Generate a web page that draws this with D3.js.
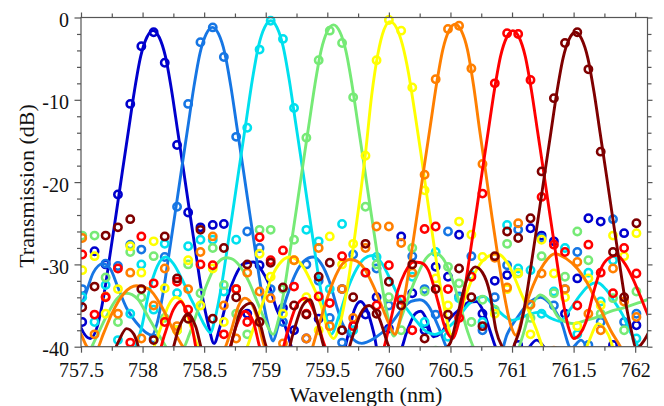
<!DOCTYPE html>
<html>
<head>
<meta charset="utf-8">
<script src="https://cdn.jsdelivr.net/npm/d3@7"></script>
<style>
  body { margin: 0; background: #fff; }
  svg { display: block; }
  svg text { font-family: 'Liberation Serif', 'Times New Roman', 'DejaVu Serif', serif; }
</style>
</head>
<body>
<svg id="chart" width="664" height="406"></svg>
<script>
// measurement wavelengths (nm), shared by all channels
const wavelengthGrid = [757.51, 757.61, 757.70, 757.80, 757.90, 757.99, 758.09, 758.18, 758.28, 758.37,
  758.47, 758.57, 758.66, 758.76, 758.85, 758.95, 759.04, 759.14, 759.23, 759.33,
  759.43, 759.52, 759.62, 759.71, 759.81, 759.90, 760.00, 760.10, 760.19, 760.29,
  760.38, 760.48, 760.57, 760.67, 760.76, 760.86, 760.96, 761.05, 761.15, 761.24,
  761.34, 761.43, 761.53, 761.62, 761.72, 761.82, 761.91, 762.01];

// measured transmission (dB) per channel, one value per grid wavelength
const measuredCh1 = [-37, -28.4, -30, -21.5, -10.5, -3.5, -1.8, -5.5, -15.5, -23.7, -25.5, -25.2, -25.1, -33, -36, -30.1,
  -41, -35.3, -38, -39, -36.6, -42, -33, -41, -36.1, -34, -37.8, -26.6, -33.5, -38, -30.3, -31.5, -26.4, -40.5,
  -36, -32, -31.3, -39.8, -25.6, -26.5, -27.2, -36, -31.7, -24.4, -24.8, -39.8, -26.2, -37.4];
const measuredCh2 = [-33, -40.5, -29.9, -30.2, -27.6, -28.2, -39, -29.1, -23, -10.5, -3, -1.2, -4.8, -14.5, -26, -28,
  -33, -37, -41, -30, -32, -36.5, -39.5, -28.8, -41, -30.5, -35, -41, -29, -33, -36.1, -26, -33.9, -29,
  -38, -34, -30.1, -25.8, -40.5, -26.8, -35, -33, -28.5, -39.8, -37, -24.5, -37, -36];
const measuredCh3 = [-34, -37, -32.5, -39.2, -36, -30, -35.5, -27.5, -33.5, -27.8, -27, -27, -33.3, -27, -13.4, -3.9,
  -0.4, -2.6, -11, -25.8, -27.2, -33, -25.1, -38, -31, -29.1, -40.5, -35, -31.5, -37, -28.5, -38.8, -34.1, -31.3,
  -37, -41, -25.2, -30.5, -30.7, -36, -33.3, -28, -38.5, -31, -34.5, -29.5, -41, -39];
const measuredCh4 = [-26.5, -26.5, -31.6, -37, -28.5, -34, -29, -36.5, -38, -30, -33.5, -28, -32.5, -36, -38.5, -25.8,
  -25.8, -33, -27, -14.6, -5.2, -1.6, -3.1, -9.7, -23, -30, -34, -38, -28, -33.3, -40.5, -30.3, -32.3, -37,
  -34.3, -35.5, -27.5, -31, -36.5, -29, -33.5, -31.5, -26, -29.5, -36, -34.1, -38, -33.3];
const measuredCh5 = [-30.7, -29, -36, -33, -27.8, -31, -27.2, -32.9, -38, -29.5, -35, -30.5, -37, -33, -40.5, -28.7,
  -31.5, -36, -29.5, -34, -38, -26.6, -30, -27.5, -16.8, -5.2, -0.3, -1.6, -8.5, -21, -31.7, -35, -24.8, -26.4,
  -29.1, -36, -33, -31.1, -38.5, -27, -31.1, -34, -37.5, -31.7, -35, -26.5, -29, -26.2];
const measuredCh6 = [-26.8, -38.5, -33.9, -36, -31, -39, -35, -30.5, -37.5, -33, -28.5, -26.6, -35, -39, -31, -33.3,
  -34.1, -39.6, -29.5, -39, -28, -37.5, -33, -36.5, -28, -25.4, -25.4, -27.4, -31, -19.1, -7.5, -1.4, -1.0, -6.2,
  -17.8, -29.2, -32.8, -25, -34.9, -31.1, -40.5, -33, -29.7, -36, -38, -30.5, -34.5, -36.4];
const measuredCh7 = [-28.8, -36.1, -34, -30.5, -39.5, -26.6, -32.3, -37, -32.1, -35.5, -30, -30.1, -38.5, -33, -37, -26.7,
  -29.5, -28.3, -32.7, -36, -33.9, -34.7, -29, -37.5, -31, -35, -30.1, -34.3, -38, -25.7, -25.4, -33, -36.5, -31.5,
  -21.4, -8, -1.9, -2.0, -7.6, -21.8, -27.6, -28.5, -35, -27.6, -31, -33.5, -28, -31.1];
const measuredCh8 = [-35.2, -32.7, -26.5, -25.5, -24.5, -33, -39.2, -26.6, -31.7, -36.6, -25.8, -36.6, -28, -34, -30, -37,
  -29.8, -32.8, -35, -36.1, -31.5, -29.8, -38, -34, -27.5, -36, -32.1, -35, -30, -39, -33, -36.1, -30.5, -34,
  -37.5, -29, -26, -26.8, -24.4, -18.7, -9.8, -3.1, -1.8, -6.3, -16.3, -28.5, -34, -25];

// fitted response per channel, [wavelength nm, dB]
const fitCh1 = [[757.45,-35.5],[757.50,-37.7],[757.575,-39.0],[757.635,-37.4],[757.685,-33.8],[757.735,-28.9],[757.785,-23.9],
  [757.835,-18.8],[757.885,-13.8],[757.935,-8.8],[757.985,-4.7],[758.035,-2.4],[758.085,-1.6],[758.135,-2.4],[758.185,-4.7],
  [758.235,-8.8],[758.285,-13.8],[758.335,-18.8],[758.385,-23.9],[758.435,-28.9],[758.485,-33.8],[758.535,-37.4],[758.58,-39.6],
  [758.63,-37.5],[758.70,-33.5],[758.75,-31.5],[758.82,-29.9],[758.90,-29.7],[758.97,-30.8],[759.02,-32.2],[759.09,-35.5],
  [759.155,-37.4],[759.20,-39.6],[759.25,-42],[759.60,-42],[759.67,-38.5],[759.72,-35.5],[759.77,-34.5],[759.82,-35.5],
  [759.88,-38.5],[759.93,-42],[760.08,-41],[760.15,-38],[760.22,-35.9],[760.26,-35.7],[760.30,-36.5],[760.36,-38.8],
  [760.42,-38.4],[760.50,-36.5],[760.58,-35.4],[760.65,-34.6],[760.71,-34.5],[760.77,-35.8],[760.82,-38],[760.87,-40.2],
  [760.95,-42],[761.10,-40.8],[761.20,-39.2],[761.30,-40.8],[761.40,-42],[762.15,-42]];
const fitCh2 = [[757.45,-37],[757.48,-35.9],[757.54,-33.5],[757.60,-31.0],[757.68,-29.9],[757.74,-30.6],[757.80,-32.8],
  [757.87,-35.3],[757.92,-36.5],[757.98,-37.6],[758.03,-38.3],[758.077,-38.6],[758.117,-37.2],[758.167,-33.4],[758.217,-28.5],
  [758.267,-23.5],[758.317,-18.4],[758.367,-13.4],[758.417,-8.4],[758.467,-4.3],[758.517,-2.0],[758.567,-1.2],[758.617,-2.0],
  [758.667,-4.3],[758.717,-8.4],[758.767,-13.4],[758.817,-18.4],[758.867,-23.5],[758.917,-28.5],[758.967,-33.4],[759.017,-37.2],
  [759.06,-39.3],[759.10,-37.5],[759.17,-34],[759.24,-31.2],[759.31,-29.6],[759.385,-29.1],[759.45,-29.9],[759.52,-32.2],
  [759.58,-35.3],[759.62,-37.1],[759.68,-38.6],[759.78,-39.6],[759.88,-39],[760.0,-37.5],[760.10,-35.6],[760.18,-34.5],
  [760.25,-34.3],[760.32,-35],[760.40,-37.5],[760.48,-40.5],[760.56,-42],[760.88,-42],[760.96,-38.5],[761.05,-36.3],
  [761.13,-34.8],[761.23,-34],[761.32,-35],[761.40,-37],[761.48,-40.2],[761.56,-39.2],[761.63,-40.6],[761.70,-42],[762.15,-42]];
const fitCh3 = [[757.45,-42],[757.88,-42],[757.93,-40.5],[757.99,-37.8],[758.05,-33.5],[758.12,-30.2],[758.19,-29.1],
  [758.25,-29.9],[758.32,-31.8],[758.39,-34.1],[758.45,-35.8],[758.50,-37.3],[758.55,-38.3],[758.591,-36.4],[758.641,-32.6],
  [758.691,-27.7],[758.741,-22.7],[758.791,-17.6],[758.841,-12.6],[758.891,-7.6],[758.941,-3.5],[758.991,-1.2],[759.041,-0.4],
  [759.091,-1.2],[759.141,-3.5],[759.191,-7.6],[759.241,-12.6],[759.291,-17.6],[759.341,-22.7],[759.391,-27.7],[759.441,-32.6],
  [759.491,-36.4],[759.53,-38.5],[759.60,-36],[759.67,-32.8],[759.74,-30.5],[759.80,-29.3],[759.87,-28.9],[759.94,-29.8],
  [760.02,-32.1],[760.09,-34.2],[760.16,-35.7],[760.23,-37],[760.29,-38],[760.37,-38.5],[760.45,-38],[760.55,-36.7],
  [760.65,-34.8],[760.77,-33.9],[760.85,-35],[760.93,-36.2],[761.0,-36.8],[761.07,-36.5],[761.15,-36],[761.23,-35.8],
  [761.31,-36.5],[761.39,-36.9],[761.47,-35.5],[761.55,-33.8],[761.62,-32.6],[761.69,-32.2],[761.76,-33],[761.83,-34.5],
  [761.90,-36.2],[761.97,-38.5],[762.05,-40.5],[762.15,-42]];
const fitCh4 = [[757.45,-42],[757.55,-41],[757.62,-39],[757.70,-36.5],[757.79,-34.2],[757.87,-33.5],[757.96,-34.2],
  [758.05,-36.5],[758.15,-39],[758.25,-41],[758.32,-40.5],[758.38,-38.5],[758.45,-35.5],[758.52,-32.5],[758.60,-30],
  [758.68,-29.2],[758.72,-29.3],[758.79,-30.2],[758.86,-32],[758.93,-34.5],[759.0,-37],[759.06,-38.5],[759.10,-36.9],
  [759.15,-33.1],[759.20,-28.2],[759.25,-23.2],[759.30,-18.1],[759.35,-13.1],[759.40,-8.1],[759.45,-4.0],[759.50,-1.7],
  [759.55,-0.9],[759.60,-1.7],[759.65,-4.0],[759.70,-8.1],[759.75,-13.1],[759.80,-18.1],[759.85,-23.2],[759.90,-28.2],
  [759.95,-33.1],[760.0,-36.9],[760.04,-38.7],[760.10,-36.5],[760.17,-33.5],[760.24,-31],[760.30,-29.3],[760.37,-28.6],
  [760.44,-29.3],[760.50,-31.2],[760.57,-34.5],[760.64,-38.2],[760.70,-40.5],[760.80,-42],[761.0,-42],[761.08,-39],
  [761.15,-35.5],[761.23,-33.7],[761.30,-34.5],[761.38,-36.5],[761.50,-37.2],[761.60,-36.8],[761.69,-36.4],[761.80,-35.7],
  [761.90,-35.3],[762.04,-34.6],[762.15,-34]];
const fitCh5 = [[757.45,-42],[758.0,-42],[758.08,-40.5],[758.14,-38],[758.21,-35],[758.27,-34],[758.32,-34.5],[758.38,-37],
  [758.45,-40],[758.52,-42],[758.75,-42],[758.85,-40],[758.90,-37.8],[758.98,-34.5],[759.05,-31.5],[759.13,-29.6],
  [759.195,-29.1],[759.24,-29.3],[759.30,-30.2],[759.38,-32.5],[759.45,-35],[759.50,-37.8],[759.55,-39],[759.61,-36.8],
  [759.66,-33],[759.71,-28],[759.76,-22.5],[759.81,-16.5],[759.86,-9.5],[759.91,-4.5],[759.96,-1.5],[760.01,-0.5],
  [760.06,-1.2],[760.11,-3.3],[760.16,-6.8],[760.21,-11.5],[760.26,-16.5],[760.31,-21.8],[760.36,-27],[760.41,-32],
  [760.46,-36],[760.51,-38.6],[760.56,-37],[760.62,-34],[760.70,-31],[760.78,-29.3],[760.88,-28.7],[760.97,-30],
  [761.07,-33.4],[761.14,-35.8],[761.20,-38],[761.26,-40.5],[761.35,-42],[761.55,-42],[761.62,-39.5],[761.70,-37.2],
  [761.78,-38.5],[761.85,-41],[762.15,-42]];
const fitCh6 = [[757.45,-37.5],[757.50,-38.5],[757.55,-40],[757.62,-40.5],[757.68,-38.5],[757.75,-36],[757.85,-33.5],
  [757.95,-32.6],[758.05,-33],[758.15,-35],[758.25,-38],[758.35,-40.5],[758.45,-42],[758.58,-42],[758.66,-40.5],[758.72,-38],
  [758.78,-35],[758.83,-34.1],[758.86,-34.3],[758.92,-36],[758.98,-39.5],[759.05,-42],[759.30,-42],[759.37,-40.5],
  [759.42,-38],[759.48,-35],[759.55,-32],[759.62,-30],[759.685,-29.4],[759.74,-29.6],[759.80,-30.5],[759.87,-32.5],
  [759.94,-35],[760.0,-37.2],[760.05,-38.5],[760.088,-36.8],[760.138,-33],[760.188,-28.1],[760.238,-23.1],[760.288,-18],
  [760.338,-13],[760.388,-8],[760.438,-3.9],[760.488,-1.6],[760.538,-0.8],[760.588,-1.6],[760.638,-3.9],[760.688,-8.3],
  [760.738,-13.8],[760.788,-19],[760.838,-24.3],[760.888,-29.3],[760.938,-33.8],[760.988,-37.3],[761.03,-38.6],[761.10,-35.5],
  [761.17,-32.6],[761.26,-29.9],[761.35,-28.7],[761.44,-29.3],[761.53,-30.5],[761.60,-32],[761.66,-33.7],[761.73,-35.8],
  [761.80,-38],[761.88,-40],[761.95,-42],[762.15,-42]];
const fitCh7 = [[757.45,-42],[758.12,-41],[758.18,-38.5],[758.25,-35.5],[758.31,-34.5],[758.36,-35.8],[758.40,-37.5],
  [758.45,-41],[758.60,-42],[758.70,-40.5],[758.76,-37.5],[758.83,-35.7],[758.90,-37],[758.95,-40],[759.0,-42],[759.12,-41],
  [759.18,-38],[759.25,-35],[759.32,-34.1],[759.40,-36],[759.47,-39.5],[759.55,-42],[759.85,-42],[759.95,-40.5],[760.0,-37.7],
  [760.07,-33.3],[760.13,-31],[760.20,-29.7],[760.26,-29.8],[760.32,-30.7],[760.40,-34.6],[760.45,-37.4],[760.52,-39],
  [760.557,-37.6],[760.607,-33.8],[760.657,-28.9],[760.707,-23.9],[760.757,-18.8],[760.807,-13.8],[760.857,-8.8],
  [760.907,-4.7],[760.957,-2.4],[761.007,-1.6],[761.057,-2.4],[761.107,-4.7],[761.157,-8.8],[761.207,-13.8],[761.257,-18.8],
  [761.307,-23.9],[761.357,-28.9],[761.407,-33.8],[761.457,-37.6],[761.50,-39],[761.55,-38.5],[761.60,-37],[761.66,-33.5],
  [761.72,-30.6],[761.78,-29.3],[761.85,-28.9],[761.92,-30],[761.98,-31.7],[762.04,-33.8],[762.10,-36],[762.15,-37.5]];
const fitCh8 = [[757.45,-42],[757.72,-42],[757.80,-39.5],[757.87,-37.8],[757.93,-38.5],[758.0,-41],[758.22,-41],[758.30,-37.5],
  [758.37,-36],[758.43,-37.5],[758.50,-41],[758.68,-41.5],[758.74,-38.5],[758.80,-35.5],[758.88,-34.7],[758.95,-37],
  [759.02,-40.5],[759.16,-41.5],[759.22,-38.5],[759.30,-35],[759.36,-34.3],[759.42,-37],[759.50,-41],[759.64,-41.5],
  [759.70,-39],[759.77,-36],[759.84,-35],[759.92,-36.5],[760.0,-40],[760.10,-42],[760.38,-42],[760.44,-40.5],[760.50,-39.5],
  [760.56,-36],[760.63,-32],[760.70,-30.3],[760.76,-31],[760.82,-33.5],[760.87,-38],[760.92,-40],[760.98,-41],[761.025,-39.5],
  [761.065,-37.8],[761.115,-34],[761.165,-29.1],[761.215,-24.1],[761.265,-19],[761.315,-14],[761.365,-9],[761.415,-4.9],
  [761.465,-2.6],[761.515,-1.8],[761.565,-2.6],[761.615,-4.9],[761.665,-9],[761.715,-14],[761.765,-19],[761.815,-24.1],
  [761.865,-29.1],[761.915,-34],[761.965,-37.8],[762.01,-40.2],[762.06,-39.5],[762.15,-37]];

const channelColors = ['#0000cd', '#1676e4', '#00e0ee', '#76ea76', '#ffff00', '#ff7f00', '#ff0000', '#7f0000'];

const xMajorTicks = [757.5, 758, 758.5, 759, 759.5, 760, 760.5, 761, 761.5, 762];
const xMinorTicks = [757.75, 758.25, 758.75, 759.25, 759.75, 760.25, 760.75, 761.25, 761.75];
const yMajorTicks = [-40, -30, -20, -10, 0];
const yMinorTicks = [-38, -36, -34, -32, -28, -26, -24, -22, -18, -16, -14, -12, -8, -6, -4, -2];

const measured = [measuredCh1, measuredCh2, measuredCh3, measuredCh4, measuredCh5, measuredCh6, measuredCh7, measuredCh8];
const fits = [fitCh1, fitCh2, fitCh3, fitCh4, fitCh5, fitCh6, fitCh7, fitCh8];

const plotLeft = 81, plotRight = 647.5, plotTop = 17.5, plotBottom = 346.7;
const axisColor = '#555';
const serif = "'Liberation Serif', 'Times New Roman', 'DejaVu Serif', serif";

const x = d3.scaleLinear().domain([757.5, 762.1]).range([plotLeft, plotRight]);
const y = d3.scaleLinear().domain([-40, 0]).range([plotBottom, plotTop]);

const svg = d3.select('#chart');

svg.append('defs')
  .append('clipPath')
  .attr('id', 'plotClip')
  .append('rect')
  .attr('x', plotLeft)
  .attr('y', 0)
  .attr('width', plotRight - plotLeft)
  .attr('height', plotBottom);

const plot = svg.append('g').attr('clip-path', 'url(#plotClip)');

const line = d3.line()
  .x(d => x(d[0]))
  .y(d => y(d[1]))
  .curve(d3.curveMonotoneX);

// MATLAB-style: markers then fit line for each channel in turn
measured.forEach((vals, i) => {
  plot.append('g')
    .selectAll('circle')
    .data(vals.map((v, j) => [wavelengthGrid[j], v]))
    .enter()
    .append('circle')
    .attr('cx', d => x(d[0]))
    .attr('cy', d => y(d[1]))
    .attr('r', 3.7)
    .style('fill', 'none')
    .style('stroke', channelColors[i])
    .style('stroke-width', 2.5);

  plot.append('path')
    .datum(fits[i])
    .attr('d', line)
    .style('fill', 'none')
    .style('stroke', channelColors[i])
    .style('stroke-width', 2.9)
    .style('stroke-linejoin', 'round');
});

// frame
svg.append('rect')
  .attr('x', plotLeft)
  .attr('y', plotTop)
  .attr('width', plotRight - plotLeft)
  .attr('height', plotBottom - plotTop)
  .style('fill', 'none')
  .style('stroke', axisColor)
  .style('stroke-width', 1.2);

function styleAxis(g) {
  g.attr('font-family', null).attr('font-size', null);
  g.select('.domain').remove();
  g.selectAll('line').style('stroke', axisColor).style('stroke-width', 1.2);
  g.selectAll('text')
    .style('font-family', serif)
    .style('font-size', '20px')
    .style('fill', '#111');
}

// bottom
svg.append('g')
  .attr('transform', `translate(0,${plotBottom})`)
  .call(d3.axisBottom(x).tickValues(xMajorTicks).tickSize(6).tickPadding(10).tickFormat(d => d))
  .call(styleAxis);
svg.append('g')
  .attr('transform', `translate(0,${plotBottom})`)
  .call(d3.axisBottom(x).tickValues(xMinorTicks).tickSize(4).tickFormat(''))
  .call(styleAxis);
// top
svg.append('g')
  .attr('transform', `translate(0,${plotTop})`)
  .call(d3.axisTop(x).tickValues(xMajorTicks).tickSize(5).tickFormat(''))
  .call(styleAxis);
svg.append('g')
  .attr('transform', `translate(0,${plotTop})`)
  .call(d3.axisTop(x).tickValues(xMinorTicks).tickSize(4).tickFormat(''))
  .call(styleAxis);
// left
svg.append('g')
  .attr('transform', `translate(${plotLeft},0)`)
  .call(d3.axisLeft(y).tickValues(yMajorTicks).tickSize(6.5).tickPadding(5.5).tickFormat(d => d))
  .call(styleAxis)
  .selectAll('text')
  .attr('dy', '0.45em');
svg.append('g')
  .attr('transform', `translate(${plotLeft},0)`)
  .call(d3.axisLeft(y).tickValues(yMinorTicks).tickSize(4).tickFormat(''))
  .call(styleAxis);
// right
svg.append('g')
  .attr('transform', `translate(${plotRight},0)`)
  .call(d3.axisRight(y).tickValues(yMajorTicks).tickSize(5).tickFormat(''))
  .call(styleAxis);
svg.append('g')
  .attr('transform', `translate(${plotRight},0)`)
  .call(d3.axisRight(y).tickValues(yMinorTicks).tickSize(4).tickFormat(''))
  .call(styleAxis);

svg.append('text')
  .attr('x', 366)
  .attr('y', 402)
  .attr('text-anchor', 'middle')
  .style('font-family', serif)
  .style('font-size', '22px')
  .style('fill', '#111')
  .text('Wavelength (nm)');

svg.append('text')
  .attr('transform', 'translate(34,186) rotate(-90)')
  .attr('text-anchor', 'middle')
  .style('font-family', serif)
  .style('font-size', '22px')
  .style('fill', '#111')
  .text('Transmission (dB)');
</script>
</body>
</html>
